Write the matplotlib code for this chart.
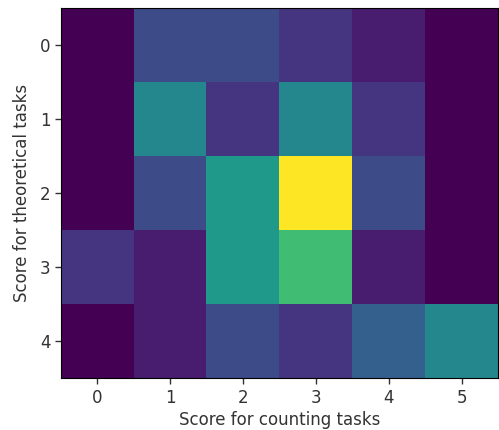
import numpy as np
import matplotlib
matplotlib.use("Agg")
import matplotlib.pyplot as plt

# counts: rows = theoretical score, cols = counting score
counting_scores = [0, 1, 2, 3, 4, 5]
theoretical_scores = [0, 1, 2, 3, 4]
row0 = [0, 3, 3, 2, 1, 0]
row1 = [0, 6, 2, 6, 2, 0]
row2 = [0, 3, 7, 13, 3, 0]
row3 = [2, 1, 7, 9, 1, 0]
row4 = [0, 1, 3, 2, 4, 6]

grid = np.array([row0, row1, row2, row3, row4])

plt.rcParams["font.size"] = 12
plt.rcParams["text.color"] = "#333333"
plt.rcParams["xtick.color"] = "#333333"
plt.rcParams["ytick.color"] = "#333333"
plt.rcParams["axes.labelcolor"] = "#333333"

fig = plt.figure(figsize=(4.99, 4.30), dpi=100)
ax = fig.add_axes([61 / 499, 52 / 430, 437 / 499, 370 / 430])
ax.imshow(grid, cmap="viridis", aspect="auto")
ax.set_xticks(range(len(counting_scores)))
ax.set_xticklabels(counting_scores)
ax.set_yticks(range(len(theoretical_scores)))
ax.set_yticklabels(theoretical_scores)
ax.tick_params(length=4.2, width=1.0)
ax.set_xlabel("Score for counting tasks", labelpad=3)
ax.set_ylabel("Score for theoretical tasks", labelpad=6)
fig.savefig("out.png", dpi=100)
